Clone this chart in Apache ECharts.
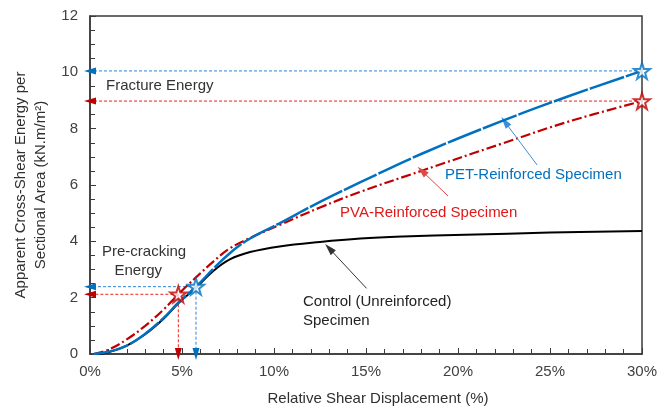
<!DOCTYPE html>
<html>
<head>
<meta charset="utf-8">
<script src="https://cdn.jsdelivr.net/npm/echarts@6/dist/echarts.min.js"></script>
<style>
  html, body { margin: 0; padding: 0; background: #fff; }
  #chart { width: 670px; height: 412px; }
</style>
</head>
<body>
<div id="chart"></div>
<script>
// Relative shear displacement (%) sample positions for each curve
const fiberX   = [0.2, 1, 2, 3, 4, 4.8, 5.76, 6.7, 7.6, 8.7, 10.3, 12.5, 14.7, 18, 22.3, 26, 30];
const petY     = [0, 0.08, 0.3, 0.72, 1.28, 1.82, 2.39, 3.02, 3.58, 4.1, 4.64, 5.4, 6.1, 7.1, 8.25, 9.15, 10.05];
const pvaY     = [0, 0.15, 0.52, 1.0, 1.58, 2.12, 2.72, 3.28, 3.75, 4.12, 4.58, 5.2, 5.76, 6.5, 7.45, 8.25, 8.98];
const controlX = [0.5, 1, 2, 3, 4, 4.8, 5.76, 6.7, 7.6, 8.7, 10.3, 12.5, 14.7, 17, 20.4, 25, 30];
const controlY = [0, 0.06, 0.3, 0.7, 1.25, 1.8, 2.35, 2.95, 3.36, 3.62, 3.82, 3.98, 4.1, 4.17, 4.23, 4.31, 4.37];

// Characteristic points [displacement %, energy]
const petPreCrack  = [5.76, 2.39];
const petFracture  = [30, 10.05];
const pvaPreCrack  = [4.8, 2.12];
const pvaFracture  = [30, 8.98];

// Tick labels
const xTicks = [0, 5, 10, 15, 20, 25, 30];
const yTicks = [0, 2, 4, 6, 8, 10, 12];

// Callout arrows [from, to] in data units
const petCallout     = [[24.3, 6.71], [22.55, 8.24]];
const pvaCallout     = [[19.46, 5.61], [18.04, 6.5]];
const controlCallout = [[15.03, 2.33], [13.0, 3.75]];

const BLUE = '#0070C0';
const RED = '#C00000';
const FONT = '"Liberation Sans", Arial, sans-serif';
const STAR = 'path://M50,0 L61.8,35.1 L98.1,35.1 L68.8,56.8 L79.4,91 L50,70 L20.6,91 L31.2,56.8 L1.9,35.1 L38.2,35.1 Z';
const HEAD = [7, 12];
// short lead-in (data units) that only orients an arrow head at an axis
const LEAD_X = 0.25, LEAD_Y = 0.15;

const zip = (xs, ys) => xs.map((x, i) => [x, ys[i]]);

// dotted projection line drawn as a plain line series
function dottedSeries(from, to, color) {
  return {
    type: 'line', data: [from.slice(), to.slice()], symbol: 'none', z: 2, silent: true,
    lineStyle: { color, width: 1, type: [3, 2] }
  };
}
// straight line ending in a filled arrow head
function arrowSeries(from, to, color) {
  return {
    type: 'line', data: [], z: 2, silent: true,
    markLine: {
      silent: true, label: { show: false }, symbol: ['none', 'triangle'], symbolSize: HEAD,
      lineStyle: { color, width: 1, type: 'solid', opacity: 1 },
      emphasis: { disabled: true },
      data: [[{ coord: from.slice() }, { coord: to.slice() }]]
    }
  };
}
const headAtYAxis = (p, c) => arrowSeries([xTicks[0] + LEAD_X, p[1]], [xTicks[0], p[1]], c);
const headAtXAxis = (p, c) => arrowSeries([p[0], yTicks[0] + LEAD_Y], [p[0], yTicks[0]], c);

const chart = echarts.init(document.getElementById('chart'), null, { renderer: 'canvas' });

chart.setOption({
  animation: false,
  textStyle: { fontFamily: FONT },
  grid: { left: 90, right: 28, top: 16, bottom: 58, show: true, borderColor: '#3a3a3a', borderWidth: 1.5, outerBoundsMode: 'none', containLabel: false },
  xAxis: {
    type: 'value', min: xTicks[0], max: xTicks[xTicks.length - 1], interval: 5,
    name: 'Relative Shear Displacement (%)', nameLocation: 'middle', nameGap: 37,
    nameTextStyle: { fontSize: 15, color: '#303030', fontFamily: FONT, padding: [0, 0, 0, 24] },
    axisLine: { lineStyle: { color: '#3a3a3a', width: 1.5 } },
    axisTick: { inside: true, length: 6, lineStyle: { color: '#3a3a3a' } },
    minorTick: { show: true, splitNumber: 5, length: 5, lineStyle: { color: '#3a3a3a' } },
    axisLabel: { fontSize: 15, color: '#404040', margin: 10, formatter: v => v + '%' },
    splitLine: { show: false }
  },
  yAxis: {
    type: 'value', min: yTicks[0], max: yTicks[yTicks.length - 1], interval: 2,
    name: 'Apparent Cross-Shear Energy per\nSectional Area (kN.m/m²)', nameLocation: 'middle', nameGap: 35,
    nameTextStyle: { fontSize: 15, color: '#303030', fontFamily: FONT, lineHeight: 20 },
    axisLine: { lineStyle: { color: '#3a3a3a', width: 1.5 } },
    axisTick: { inside: true, length: 6, lineStyle: { color: '#3a3a3a' } },
    minorTick: { show: true, splitNumber: 4, length: 5, lineStyle: { color: '#3a3a3a' } },
    axisLabel: { fontSize: 15, color: '#404040', margin: 12 },
    splitLine: { show: false }
  },
  series: [
    {
      name: 'Control', type: 'line', data: zip(controlX, controlY), smooth: 0.4, symbol: 'none',
      lineStyle: { color: '#000', width: 2 }, z: 3
    },
    {
      name: 'PVA', type: 'line', data: zip(fiberX, pvaY), smooth: 0.4, symbol: 'none',
      lineStyle: { color: RED, width: 2.2, type: [10, 3, 2, 3] }, z: 4
    },
    {
      name: 'PET', type: 'line', data: zip(fiberX, petY), smooth: 0.4, symbol: 'none',
      lineStyle: { color: BLUE, width: 2.5, type: [36, 2] }, z: 5
    },
    dottedSeries(petFracture, [xTicks[0], petFracture[1]], '#2F80D8'),
    dottedSeries(pvaFracture, [xTicks[0], pvaFracture[1]], '#F02020'),
    dottedSeries(petPreCrack, [xTicks[0], petPreCrack[1]], '#2F80D8'),
    dottedSeries(pvaPreCrack, [xTicks[0], pvaPreCrack[1]], '#F02020'),
    dottedSeries(petPreCrack, [petPreCrack[0], yTicks[0]], '#2F80D8'),
    dottedSeries(pvaPreCrack, [pvaPreCrack[0], yTicks[0]], '#F02020'),
    headAtYAxis(petFracture, BLUE),
    headAtYAxis(pvaFracture, RED),
    headAtYAxis(petPreCrack, BLUE),
    headAtYAxis(pvaPreCrack, RED),
    headAtXAxis(petPreCrack, BLUE),
    headAtXAxis(pvaPreCrack, RED),
    arrowSeries(petCallout[0], petCallout[1], '#3C8DDB'),
    arrowSeries(pvaCallout[0], pvaCallout[1], '#E04848'),
    arrowSeries(controlCallout[0], controlCallout[1], '#333'),
    {
      name: 'PET points', type: 'scatter', data: [petPreCrack, petFracture], symbol: STAR, symbolSize: 16,
      itemStyle: { color: '#fff', borderColor: BLUE, borderWidth: 2 }, z: 10
    },
    {
      name: 'PVA points', type: 'scatter', data: [pvaPreCrack, pvaFracture], symbol: STAR, symbolSize: 16,
      itemStyle: { color: '#fff', borderColor: RED, borderWidth: 2 }, z: 10
    }
  ],
  graphic: [
    { type: 'text', left: 106, top: 78, style: { text: 'Fracture Energy', font: '15px ' + FONT, fill: '#333' } },
    { type: 'text', left: 102, top: 242, style: { text: 'Pre-cracking\n   Energy', font: '15px ' + FONT, fill: '#333', lineHeight: 19 } },
    { type: 'text', left: 445, top: 167, style: { text: 'PET-Reinforced Specimen', font: '15px ' + FONT, fill: BLUE } },
    { type: 'text', left: 340, top: 205, style: { text: 'PVA-Reinforced Specimen', font: '15px ' + FONT, fill: '#E01818' } },
    { type: 'text', left: 303, top: 292, style: { text: 'Control (Unreinforced)\nSpecimen', font: '15px ' + FONT, fill: '#222', lineHeight: 19 } }
  ]
});
</script>
</body>
</html>
